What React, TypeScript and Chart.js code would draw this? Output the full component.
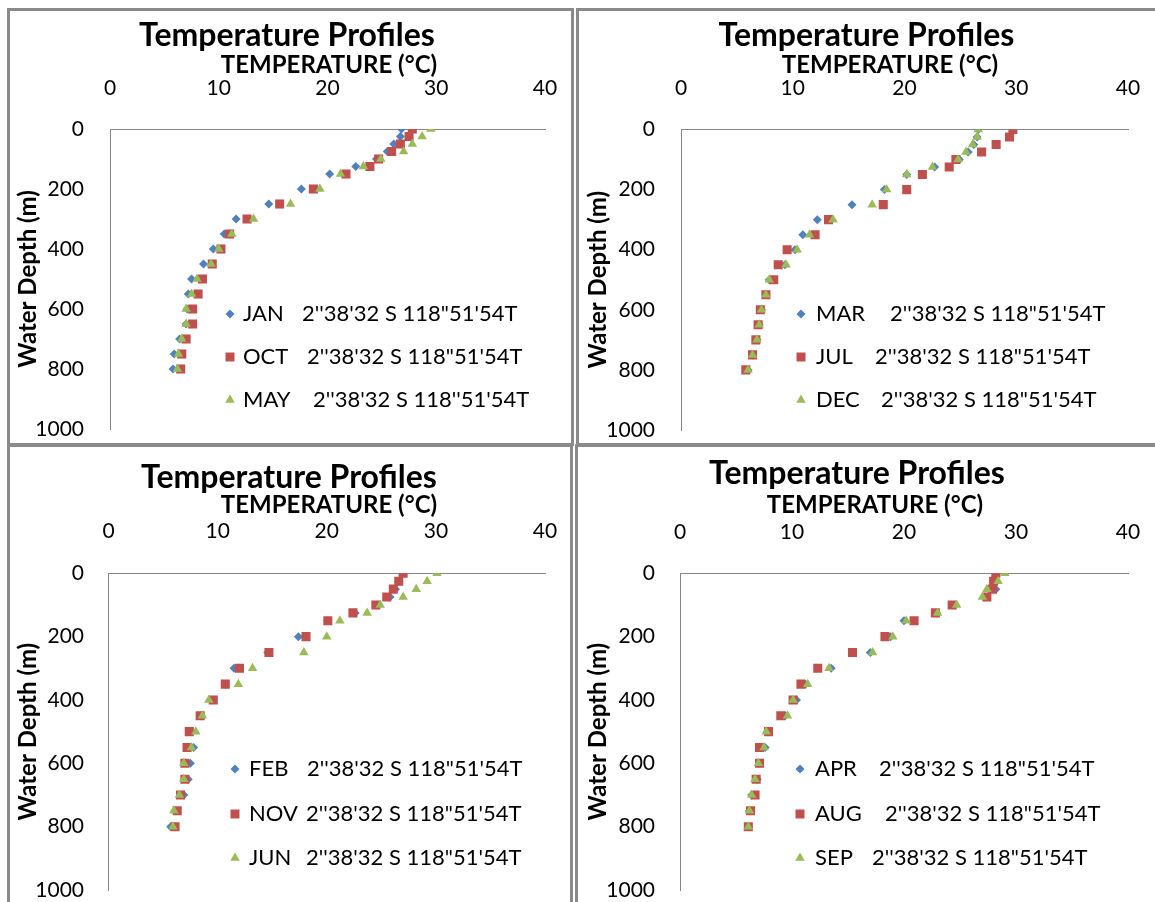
import React, { useEffect, useRef } from "react";
import { Chart, registerables } from "chart.js";

Chart.register(...registerables);

// ---------- DATA ----------
const DEPTHS = [0, 25, 50, 75, 100, 125, 150, 200, 250, 300, 350, 400, 450, 500, 550, 600, 650, 700, 750, 800];
const X_TICKS = [0, 10, 20, 30, 40];
const Y_TICKS = [0, 200, 400, 600, 800, 1000];

const JAN = [26.8, 26.7, 26.1, 25.5, 24.5, 22.6, 20.2, 17.6, 14.6, 11.6, 10.5, 9.5, 8.6, 7.5, 7.2, 7.1, 7.0, 6.4, 5.9, 5.8];
const OCT = [27.8, 27.5, 26.7, 25.9, 24.7, 23.9, 21.7, 18.7, 15.6, 12.6, 11.0, 10.2, 9.4, 8.5, 8.1, 7.6, 7.6, 7.0, 6.6, 6.5];
const MAY = [29.5, 28.7, 27.8, 27.0, 24.9, 23.3, 21.2, 19.3, 16.6, 13.2, 11.2, 10.0, 9.3, 8.0, 7.5, 7.0, 7.0, 6.6, 6.3, 6.2];

const MAR = [26.6, 26.5, 26.2, 25.7, 24.9, 22.7, 20.2, 18.2, 15.3, 12.2, 10.9, 10.2, 9.3, 7.9, 7.6, 7.2, 7.0, 6.8, 6.4, 6.0];
const JUL = [29.7, 29.4, 28.2, 26.9, 24.6, 24.0, 21.6, 20.2, 18.1, 13.2, 12.0, 9.5, 8.7, 8.3, 7.6, 7.1, 6.9, 6.7, 6.4, 5.8];
const DEC = [26.6, 26.5, 26.1, 25.5, 24.8, 22.5, 20.2, 18.4, 17.1, 13.6, 11.5, 10.4, 9.4, 7.9, 7.6, 7.2, 7.0, 6.8, 6.4, 6.0];

const FEB = [27.0, 26.6, 26.3, 25.8, 24.6, 22.6, 20.1, 17.4, 14.6, 11.5, 10.7, 9.4, 8.5, 7.6, 7.8, 7.5, 7.3, 6.9, 6.1, 5.7];
const NOV = [27.0, 26.6, 26.1, 25.5, 24.5, 22.4, 20.1, 18.1, 14.7, 12.0, 10.7, 9.6, 8.4, 7.4, 7.2, 7.0, 7.0, 6.6, 6.3, 6.1];
const JUN = [30.1, 29.2, 28.2, 27.0, 24.9, 23.7, 21.2, 20.0, 17.9, 13.2, 11.9, 9.2, 8.6, 8.0, 7.6, 6.9, 6.9, 6.5, 6.0, 5.9];

const APR = [28.2, 28.0, 28.2, 27.2, 24.5, 22.9, 20.0, 18.8, 17.0, 13.5, 11.2, 10.4, 9.4, 7.8, 7.6, 7.1, 6.9, 6.4, 6.2, 6.1];
const AUG = [28.2, 28.0, 27.9, 27.4, 24.3, 22.8, 20.9, 18.3, 15.4, 12.3, 10.8, 10.1, 9.0, 7.9, 7.1, 7.1, 6.8, 6.7, 6.3, 6.1];
const SEP = [29.0, 28.4, 27.4, 27.0, 24.7, 23.0, 20.2, 19.0, 17.2, 13.3, 11.4, 10.1, 9.6, 7.7, 7.5, 7.0, 6.7, 6.4, 6.2, 6.1];

const TITLE = "Temperature Profiles";
const X_TITLE = "TEMPERATURE (°C)";
const Y_TITLE = "Water Depth (m)";
const COORD = `2''38'32 S 118"51'54T`;
const COORD_B = `2''38'32 S 118''51'54T`;

// ---------- STYLE ----------
const BLUE = "#4F81BD";
const RED = "#C0504D";
const GREEN = "#9BBB59";
const AXIS = "#868686";
const FRAME = "#8a8a8a";
const FONT = "Lato, 'Noto Sans', sans-serif";
const BW = 3;

type Series = { label: string; coord: string; data: number[]; color: string; style: string };
type PanelCfg = {
  box: { left: number; top: number; width: number; height: number };
  plot: { l: number; r: number; t: number; b: number };
  titleCX: number; titleCY: number; xTitleCX: number; xTitleCY: number; xTickCY: number; yTickR: number; yTitleCX: number;
  series: Series[];
  legend: { markerX: number; textX: number; rows: number[]; coordX: number[] };
};

const mk = (label: string, coord: string, data: number[], i: number): Series => ({
  label, coord, data,
  color: [BLUE, RED, GREEN][i],
  style: ["rectRot", "rect", "triangle"][i],
});

const PANELS: PanelCfg[] = [
  {
    box: { left: 7, top: 8, width: 567, height: 438 },
    plot: { l: 110, r: 545, t: 129, b: 429 },
    titleCX: 287, titleCY: 36, xTitleCX: 329, xTitleCY: 65, xTickCY: 88, yTickR: 84, yTitleCX: 28,
    series: [mk("JAN", COORD, JAN, 0), mk("OCT", COORD, OCT, 1), mk("MAY", COORD_B, MAY, 2)],
    legend: { markerX: 230, textX: 243, rows: [314, 357, 400], coordX: [302, 307, 313] },
  },
  {
    box: { left: 576, top: 8, width: 600, height: 438 },
    plot: { l: 681, r: 1128, t: 129.5, b: 430 },
    titleCX: 872, titleCY: 36, xTitleCX: 890, xTitleCY: 65, xTickCY: 88, yTickR: 655, yTitleCX: 598,
    series: [mk("MAR", COORD, MAR, 0), mk("JUL", COORD, JUL, 1), mk("DEC", COORD, DEC, 2)],
    legend: { markerX: 801, textX: 816, rows: [314, 357, 400], coordX: [890, 875, 881] },
  },
  {
    box: { left: 7, top: 444, width: 566, height: 470 },
    plot: { l: 108.5, r: 545, t: 573.3, b: 890 },
    titleCX: 289, titleCY: 478, xTitleCX: 329, xTitleCY: 505, xTickCY: 531, yTickR: 84, yTitleCX: 28,
    series: [mk("FEB", COORD, FEB, 0), mk("NOV", COORD, NOV, 1), mk("JUN", COORD, JUN, 2)],
    legend: { markerX: 235, textX: 249, rows: [769, 814, 858], coordX: [307, 306, 306] },
  },
  {
    box: { left: 575, top: 444, width: 600, height: 470 },
    plot: { l: 680, r: 1128, t: 573.3, b: 890 },
    titleCX: 857, titleCY: 474, xTitleCX: 875, xTitleCY: 505, xTickCY: 532, yTickR: 655, yTitleCX: 598,
    series: [mk("APR", COORD, APR, 0), mk("AUG", COORD, AUG, 1), mk("SEP", COORD, SEP, 2)],
    legend: { markerX: 800, textX: 815, rows: [769, 814, 858], coordX: [879, 885, 872] },
  },
];

const FT = 32, FX = 24, FY = 24, FK = 21, FL = 22;

function drawMarker(ctx: CanvasRenderingContext2D, style: string, x: number, y: number, color: string) {
  ctx.save();
  ctx.fillStyle = color;
  ctx.beginPath();
  if (style === "rectRot") {
    const r = 4.5;
    ctx.moveTo(x - r, y); ctx.lineTo(x, y - r); ctx.lineTo(x + r, y); ctx.lineTo(x, y + r);
  } else if (style === "rect") {
    const s = 4.5;
    ctx.rect(x - s, y - s, 2 * s, 2 * s);
  } else {
    const r = 5.5;
    ctx.moveTo(x, y - r);
    ctx.lineTo(x + r * Math.sin((2 * Math.PI) / 3), y - r * Math.cos((2 * Math.PI) / 3));
    ctx.lineTo(x + r * Math.sin((4 * Math.PI) / 3), y - r * Math.cos((4 * Math.PI) / 3));
  }
  ctx.closePath();
  ctx.fill();
  ctx.restore();
}

// Axis title (placed like the moved Excel axis title) and the in-plot legend
const overlayText = {
  id: "overlayText",
  afterDraw(chart: any, _args: any, opts: any) {
    const { ctx } = chart;
    const { items, offX, offY, xTitle } = opts;
    ctx.save();
    ctx.fillStyle = "#000";
    ctx.textBaseline = "middle";
    ctx.font = `bold ${FX}px ${FONT}`;
    ctx.textAlign = "center";
    ctx.fillText(xTitle.text, xTitle.x - offX, xTitle.y - offY);
    ctx.font = `${FL}px ${FONT}`;
    ctx.textAlign = "left";
    for (const it of items) {
      drawMarker(ctx, it.style, it.mx - offX, it.y - offY, it.color);
      ctx.fillText(it.label, it.tx - offX, it.y - offY);
      ctx.fillText(it.coord, it.cx - offX, it.y - offY);
    }
    ctx.restore();
  },
};

function Panel({ cfg }: { cfg: PanelCfg }) {
  const ref = useRef<HTMLCanvasElement | null>(null);
  const innerL = cfg.box.left + BW;
  const innerT = cfg.box.top + BW;
  const W = cfg.box.width - 2 * BW;
  const H = cfg.box.height - 2 * BW;

  useEffect(() => {
    if (!ref.current) return;
    const pL = cfg.plot.l - innerL;
    const pR = cfg.plot.r - innerL;
    const pT = cfg.plot.t - innerT;
    const pB = cfg.plot.b - innerT;
    const padRight = W - pR;
    const padBottom = H - pB;
    const tcx = cfg.titleCX - innerL;
    let padLeft = 2 * tcx - W + padRight;
    padLeft = Math.max(0, Math.min(cfg.yTickR - innerL - 50, padLeft));
    const titlePadTop = cfg.titleCY - innerT - (FT * 1.2) / 2;
    const titleH = titlePadTop + FT * 1.2;
    const xH = pT - titleH;
    const xTickPad = cfg.plot.t - cfg.xTickCY - (FK * 1.2) / 2;
    const yW = pL - padLeft;
    const yTickPad = cfg.plot.l - cfg.yTickR;
    const yTitlePad = cfg.yTitleCX - innerL - padLeft - (FY * 1.2) / 2;

    const n = cfg.series.length;
    const datasets = cfg.series.map((s, i) => ({
      label: s.label,
      data: DEPTHS.map((d, k) => ({ x: s.data[k], y: d })),
      backgroundColor: s.color,
      borderColor: s.color,
      borderWidth: 0,
      pointStyle: s.style,
      pointRadius: s.style === "rectRot" ? 4.5 : s.style === "rect" ? 6.4 : 5.5,
      pointHoverRadius: 0,
      showLine: false,
      order: n - i,
    }));

    const legendItems = cfg.series.map((s, i) => ({
      label: s.label,
      coord: s.coord,
      color: s.color,
      style: s.style,
      mx: cfg.legend.markerX,
      tx: cfg.legend.textX,
      cx: cfg.legend.coordX[i],
      y: cfg.legend.rows[i],
    }));

    const chart = new Chart(ref.current, {
      type: "scatter",
      data: { datasets },
      options: {
        animation: false,
        responsive: false,
        maintainAspectRatio: false,
        events: [],
        layout: { padding: { left: padLeft, right: padRight, top: 0, bottom: padBottom } },
        plugins: {
          legend: { display: false },
          tooltip: { enabled: false },
          title: {
            display: true,
            text: TITLE,
            color: "#000",
            font: { family: FONT, size: FT, weight: "bold", lineHeight: 1.2 },
            padding: { top: titlePadTop, bottom: 0 },
          },
          overlayText: {
            items: legendItems,
            offX: innerL,
            offY: innerT,
            xTitle: { text: X_TITLE, x: cfg.xTitleCX, y: cfg.xTitleCY },
          },
        } as any,
        scales: {
          x: {
            type: "linear",
            position: "top",
            min: X_TICKS[0],
            max: X_TICKS[X_TICKS.length - 1],
            afterBuildTicks: (s: any) => { s.ticks = X_TICKS.map((v) => ({ value: v })); },
            afterFit: (s: any) => { s.height = xH; s.paddingLeft = 0; s.paddingRight = 0; },
            grid: { display: false, drawTicks: false },
            border: { display: true, color: AXIS, width: 1 },
            ticks: {
              color: "#000", padding: xTickPad, font: { family: FONT, size: FK, lineHeight: 1.2 },
              maxRotation: 0, autoSkip: false, callback: (v: any) => String(v),
            },
            title: { display: false },
          },
          y: {
            type: "linear",
            position: "left",
            reverse: true,
            min: Y_TICKS[0],
            max: Y_TICKS[Y_TICKS.length - 1],
            afterBuildTicks: (s: any) => { s.ticks = Y_TICKS.map((v) => ({ value: v })); },
            afterFit: (s: any) => { s.width = yW; s.paddingTop = 0; s.paddingBottom = 0; },
            grid: { display: false, drawTicks: false },
            border: { display: true, color: AXIS, width: 1 },
            ticks: {
              color: "#000", padding: yTickPad, font: { family: FONT, size: FK, lineHeight: 1.2 },
              autoSkip: false, callback: (v: any) => String(v),
            },
            title: {
              display: true,
              text: Y_TITLE,
              color: "#000",
              font: { family: FONT, size: FY, weight: "bold", lineHeight: 1.2 },
              padding: { top: yTitlePad, bottom: 0 },
            },
          },
        },
      },
      plugins: [overlayText as any],
    });
    return () => chart.destroy();
  }, [cfg]);

  return (
    <div
      style={{
        position: "absolute",
        left: cfg.box.left,
        top: cfg.box.top,
        width: cfg.box.width - 2 * BW,
        height: cfg.box.height - 2 * BW,
        border: `${BW}px solid ${FRAME}`,
        background: "#fff",
      }}
    >
      <canvas ref={ref} width={W} height={H} style={{ display: "block", width: W, height: H }} />
    </div>
  );
}

export default function App() {
  return (
    <div
      style={{
        position: "absolute",
        left: 0,
        top: 0,
        width: 1155,
        height: 902,
        overflow: "hidden",
        background: "#fff",
      }}
    >
      {PANELS.map((p, i) => (
        <Panel key={i} cfg={p} />
      ))}
    </div>
  );
}
